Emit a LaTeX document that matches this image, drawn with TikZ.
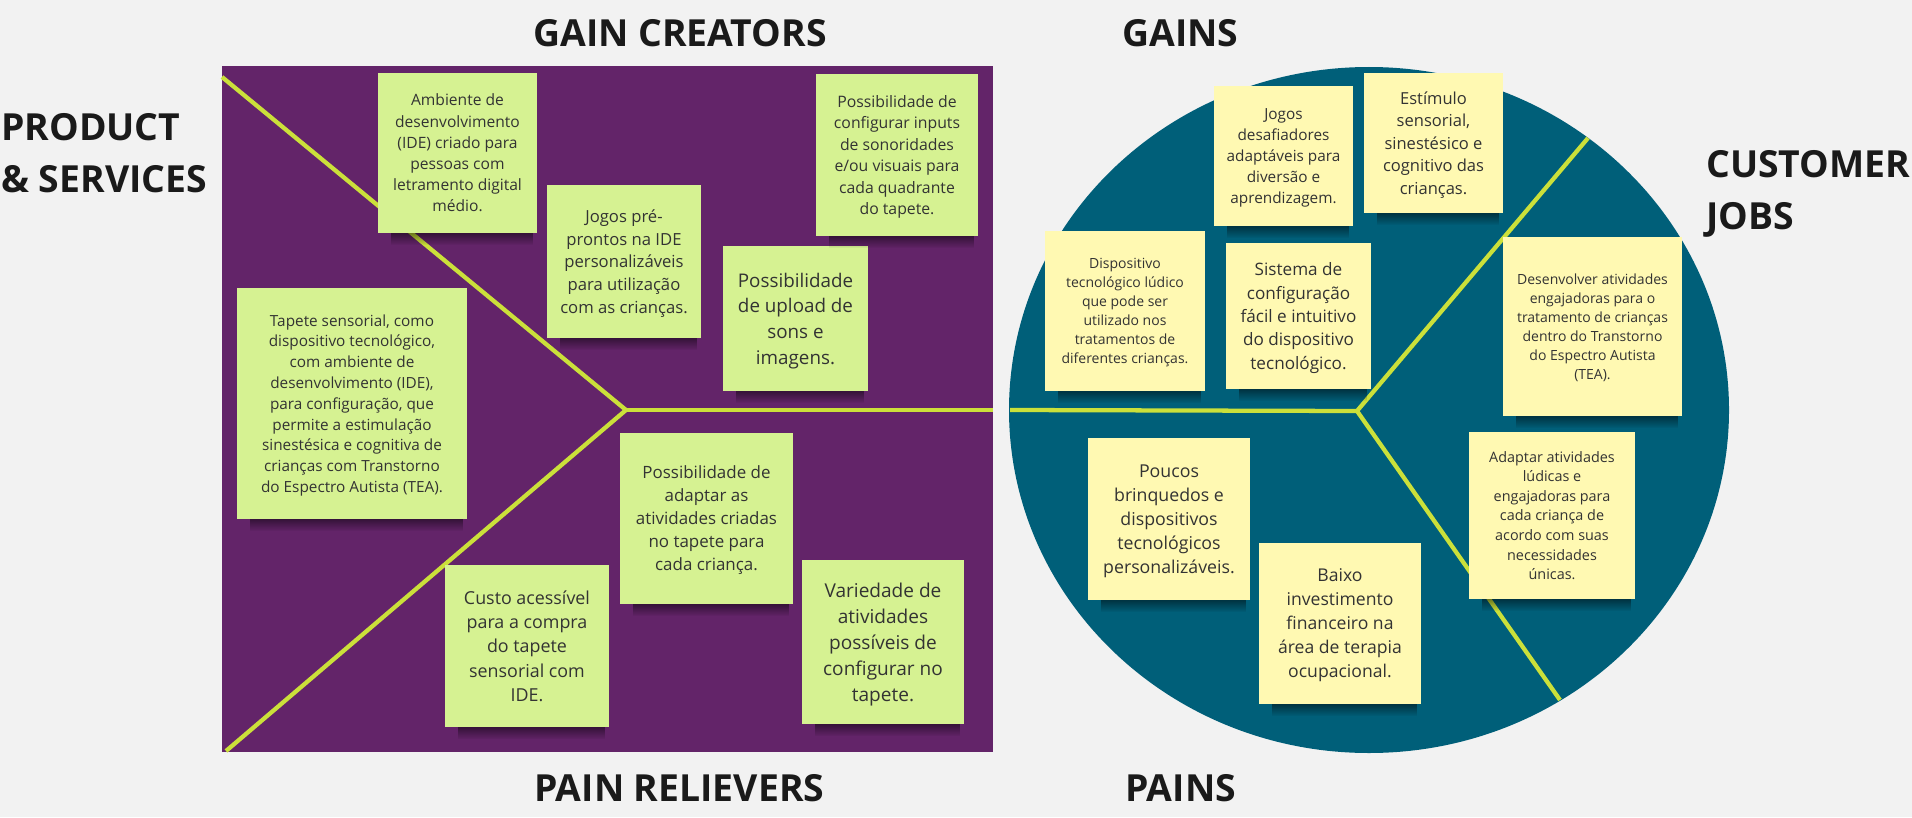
\documentclass[tikz,border=0pt]{standalone}
\usepackage{fontspec}
\setmainfont{Open Sans}
\usetikzlibrary{fadings}

\definecolor{canvas}{RGB}{242,242,242}
\definecolor{plum}{RGB}{99,36,105}
\definecolor{petrol}{RGB}{0,95,121}
\definecolor{lime}{RGB}{203,224,58}
\definecolor{notegreen}{RGB}{214,242,146}
\definecolor{noteyellow}{RGB}{255,249,178}
\definecolor{ink}{RGB}{26,26,26}

\begin{document}
\begin{tikzpicture}[x=0.75pt, y=-0.75pt,
  title/.style={anchor=north west, inner sep=0, text=ink, align=left,
    font=\fontsize{28pt}{39pt}\selectfont\bfseries},
  note/.style={inner sep=0, align=center, text=black!80},
  gnote/.style={note, fill=notegreen},
  ynote/.style={note, fill=noteyellow},
  notesize/.style 2 args={minimum width=#1*0.75pt, minimum height=#2*0.75pt},
  fs/.style 2 args={font=\fontsize{#1pt}{#2pt}\selectfont, text depth={(2.5-#1*0.7)*1pt}},
  spoke/.style={lime, line width=3.2pt}]

  \fill[canvas] (0,0) rectangle (1912,817);
  \useasboundingbox (0,0) rectangle (1912,817);

  % product side and customer side
  \fill[plum] (222,66) rectangle (993,752);
  \fill[petrol] (1369,410) ellipse [x radius=270pt, y radius=257.25pt];

  \coordinate (boxNW) at (222,77);
  \coordinate (boxSW) at (226,751);
  \coordinate (boxE) at (993,410);
  \coordinate (hubL) at (626,410);
  \coordinate (ringW) at (1010,410);
  \coordinate (hubR) at (1357,411);
  \coordinate (ringNE) at (1588,138);
  \coordinate (ringSE) at (1560,700);
  \draw[spoke] (boxNW) -- (hubL) -- (boxSW);
  \draw[spoke] (hubL) -- (boxE);
  \draw[spoke] (ringW) -- (hubR);
  \draw[spoke] (ringNE) -- (hubR) -- (ringSE);

  % gain creators, products, pain relievers
  \node[gnote, notesize={159}{160}, fs={11.7}{15.9}] (gc1) at (457.5,153)
    {Ambiente de\\desenvolvimento\\(IDE) criado para\\pessoas com\\letramento digital\\médio.};
  \node[gnote, notesize={154}{153}, fs={12.5}{17}] (gc2) at (624,261.5)
    {Jogos pré-\\prontos na IDE\\personalizáveis\\para utilização\\com as crianças.};
  \node[gnote, notesize={145}{145}, fs={14.1}{19.2}] (gc3) at (795.5,318.5)
    {Possibilidade\\de upload de\\sons e\\imagens.};
  \node[gnote, notesize={162}{162}, fs={11.85}{16.1}] (gc4) at (897,155)
    {Possibilidade de\\configurar inputs\\de sonoridades\\e/ou visuais para\\cada quadrante\\do tapete.};
  \node[gnote, notesize={230}{231}, fs={11.5}{15.6}] (ps1) at (352,403.5)
    {Tapete sensorial, como\\dispositivo tecnológico,\\com ambiente de\\desenvolvimento (IDE),\\para configuração, que\\permite a estimulação\\sinestésica e cognitiva de\\crianças com Transtorno\\do Espectro Autista (TEA).};
  \node[gnote, notesize={173}{171}, fs={12.7}{17.25}] (pr1) at (706.5,518.5)
    {Possibilidade de\\adaptar as\\atividades criadas\\no tapete para\\cada criança.};
  \node[gnote, notesize={164}{162}, fs={13.4}{18.2}] (pr2) at (527,646)
    {Custo acessível\\para a compra\\do tapete\\sensorial com\\IDE.};
  \node[gnote, notesize={162}{164}, fs={14.3}{19.5}] (pr3) at (883,642)
    {Variedade de\\atividades\\possíveis de\\configurar no\\tapete.};

  % gains, customer jobs, pains
  \node[ynote, notesize={139}{140}, fs={11.5}{15.6}] (ga1) at (1283.5,156)
    {Jogos\\desafiadores\\adaptáveis para\\diversão e\\aprendizagem.};
  \node[ynote, notesize={139}{140}, fs={12.4}{16.9}] (ga2) at (1433.5,143)
    {Estímulo\\sensorial,\\sinestésico e\\cognitivo das\\crianças.};
  \node[ynote, notesize={160}{160}, fs={10.5}{14.25}] (ga3) at (1125,311)
    {Dispositivo\\tecnológico lúdico\\que pode ser\\utilizado nos\\tratamentos de\\diferentes crianças.};
  \node[ynote, notesize={145}{146}, fs={12.85}{17.5}] (ga4) at (1298.5,316)
    {Sistema de\\configuração\\fácil e intuitivo\\do dispositivo\\tecnológico.};
  \node[ynote, notesize={179}{179}, fs={10.5}{14.3}] (cj1) at (1592.5,326.5)
    {Desenvolver atividades\\engajadoras para o\\tratamento de crianças\\dentro do Transtorno\\do Espectro Autista\\(TEA).};
  \node[ynote, notesize={166}{167}, fs={10.8}{14.7}] (cj2) at (1552,515.5)
    {Adaptar atividades\\lúdicas e\\engajadoras para\\cada criança de\\acordo com suas\\necessidades\\únicas.};
  \node[ynote, notesize={162}{162}, fs={13.3}{18.1}] (pa1) at (1169,519)
    {Poucos\\brinquedos e\\dispositivos\\tecnológicos\\personalizáveis.};
  \node[ynote, notesize={162}{161}, fs={13.2}{18}] (pa2) at (1340,623.5)
    {Baixo\\investimento\\financeiro na\\área de terapia\\ocupacional.};

  \foreach \n in {gc1,gc2,gc3,gc4,ps1,pr1,pr2,pr3,ga1,ga2,ga3,ga4,cj1,cj2,pa1,pa2}
    \fill[black, opacity=.45, path fading=south]
      ([xshift=10pt]\n.south west) rectangle ([xshift=-3pt, yshift=-9pt]\n.south east);

  \node[title] (gaincreators) at (533,19) {GAIN CREATORS};
  \node[title] (gains) at (1122,19) {GAINS};
  \node[title] (products) at (1,113) {PRODUCT\\\& SERVICES};
  \node[title] (jobs) at (1706,150) {CUSTOMER\\JOBS};
  \node[title] (painrelievers) at (534,774) {PAIN RELIEVERS};
  \node[title] (pains) at (1125,774) {PAINS};
\end{tikzpicture}
\end{document}
